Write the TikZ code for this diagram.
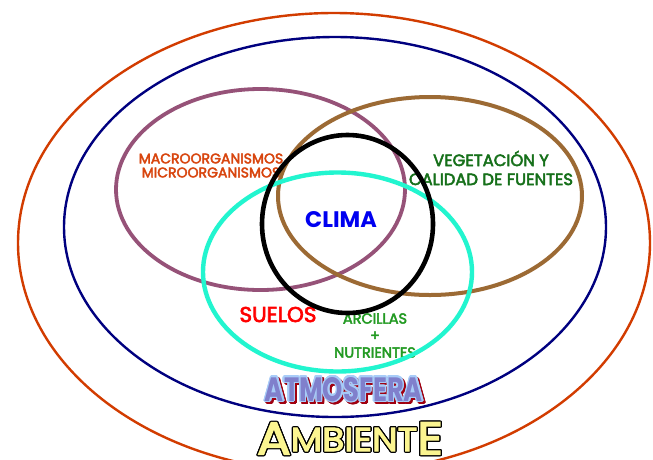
\documentclass[tikz,border=0pt]{standalone}
\usepackage{fontspec}
\setmainfont{Poppins}
\newfontfamily\rotulo{Poppins}[FakeBold=3]
\usepackage{graphicx}
\usepackage{contour}
\usetikzlibrary{positioning}
\definecolor{naranja}{HTML}{D23C00}
\definecolor{marino}{HTML}{00007F}
\definecolor{malva}{HTML}{965278}
\definecolor{cafe}{HTML}{9C6A34}
\definecolor{turquesa}{HTML}{22F5CF}
\definecolor{rojizo}{HTML}{D8450E}
\definecolor{verdeosc}{HTML}{16701A}
\definecolor{verde}{HTML}{229A22}
\definecolor{azul}{HTML}{0000F0}
\definecolor{rojo}{HTML}{FF0000}
\definecolor{lila}{HTML}{8080CC}
\definecolor{celeste}{HTML}{A8CCF8}
\definecolor{granate}{HTML}{A00010}
\definecolor{amarillo}{HTML}{FBF590}

\begin{document}
\begin{tikzpicture}[x=1pt, y=-1pt, every node/.style={inner sep=0pt, align=center}]
\useasboundingbox (0,0) rectangle (653,459);
\fill[white] (0,0) rectangle (653,459);

% ================= etiquetas de cada factor =================
\node[text=rojizo, font=\rotulo\fontsize{14}{14}\selectfont] (organismos) at (211,165.5) {MACROORGANISMOS\\MICROORGANISMOS};
\node[text=verdeosc, font=\rotulo\fontsize{16.4}{19}\selectfont] (vegetacion) at (491,168) {VEGETACIÓN Y\\CALIDAD DE FUENTES};
\node[text=azul, font=\bfseries\fontsize{22.5}{24}\selectfont] (clima) at (341,219.5) {CLIMA};
\node[text=rojo, font=\rotulo\fontsize{21.5}{24}\selectfont] (suelos) at (278,314.5) {SUELOS};
\node[text=verde, font=\rotulo\fontsize{14.5}{17}\selectfont] (arcillas) at (375,335.5) {ARCILLAS\\+\\NUTRIENTES};

% ================= circulos del modelo =================
\draw[naranja, line width=2.4pt] (334,243) ellipse [x radius=316, y radius=230];
\draw[marino, line width=2.4pt] (335,227) ellipse [x radius=271, y radius=190];
\draw[malva, line width=3.8pt] (260.5,189.5) ellipse [x radius=144.5, y radius=100.5];
\draw[cafe, line width=4pt] (430,196) ellipse [x radius=152, y radius=99];
\draw[turquesa, line width=4.4pt] (337.5,272) ellipse [x radius=134.5, y radius=99.5];
\draw[black, line width=4.6pt] (347.5,224) ellipse [x radius=85.5, y radius=89];

% ================= rotulos exteriores =================
\contourlength{1.6pt}
\node (atmsombra) at (346,392) {\resizebox{158pt}{24pt}{\contour{granate}{\textcolor{granate}{\bfseries\fontsize{34}{34}\selectfont ATMOSFERA}}}};
\node (atmosfera) at (344,390) {\resizebox{158pt}{24pt}{\contour{celeste}{\textcolor{lila}{\bfseries\fontsize{34}{34}\selectfont ATMOSFERA}}}};
\contourlength{1pt}
\node (ambiente) at (350,439) {\resizebox{186pt}{32pt}{\contour{black}{\textcolor{amarillo}{\rotulo\fontsize{40}{40}\selectfont A\raisebox{3pt}{\fontsize{29}{29}\selectfont MBIENT}E}}}};

\end{tikzpicture}
\end{document}
